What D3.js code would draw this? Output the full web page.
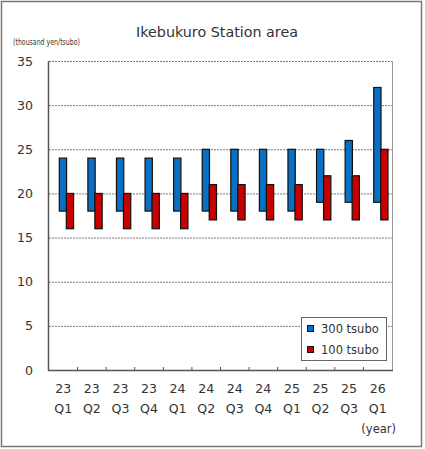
<!DOCTYPE html>
<html>
<head>
<meta charset="utf-8">
<script src="https://cdn.jsdelivr.net/npm/d3@7"></script>
<style>
  body { margin: 0; background: white; }
  svg text { font-family: "DejaVu Sans", Verdana, sans-serif; fill: #333; }
</style>
</head>
<body>
<div id="chart"></div>
<script>
// data
var years    = ["23","23","23","23","24","24","24","24","25","25","25","26"];
var quarters = ["Q1","Q2","Q3","Q4","Q1","Q2","Q3","Q4","Q1","Q2","Q3","Q1"];
var low300   = [18,18,18,18,18,18,18,18,18,19,19,19];
var high300  = [24,24,24,24,24,25,25,25,25,25,26,32];
var low100   = [16,16,16,16,16,17,17,17,17,17,17,17];
var high100  = [20,20,20,20,20,21,21,21,21,22,22,25];
var yTicks   = [0,5,10,15,20,25,30,35];
var seriesNames = ["300 tsubo","100 tsubo"];
var seriesColors = ["#0a70c4","#c80000"];

var width = 425, height = 449;
// plot area edges (window.top is reserved, so no plain "top")
var pLeft = 49, pRight = 392, pTop = 61, pBottom = 370;

var svg = d3.select("#chart").append("svg")
    .attr("width", width)
    .attr("height", height);

// outer frame
svg.append("rect")
    .attr("x", 1.5).attr("y", 1.5)
    .attr("width", 420).attr("height", 445)
    .style("fill", "white")
    .style("stroke", "#777")
    .style("stroke-width", 1.5);

var idx = d3.range(years.length);
var x = d3.scaleBand().domain(idx).range([pLeft, pRight]);
var y = d3.scaleLinear().domain([0, 35]).range([pBottom, pTop]);

// gridlines
svg.append("g").selectAll("line").data(yTicks.slice(1)).enter().append("line")
    .attr("x1", pLeft).attr("x2", pRight)
    .attr("y1", function(d) { return y(d) + 0.5; })
    .attr("y2", function(d) { return y(d) + 0.5; })
    .style("stroke", "#777")
    .style("stroke-width", 1)
    .style("stroke-dasharray", "2,1");

// right border of the plot
svg.append("line")
    .attr("x1", pRight + 0.5).attr("x2", pRight + 0.5)
    .attr("y1", pTop).attr("y2", pBottom)
    .style("stroke", "#999");

var barW = 7.3;

// 300 tsubo bars
svg.append("g").selectAll("rect").data(idx).enter().append("rect")
    .attr("x", function(d) { return x(d) + x.bandwidth() / 2 - 4; })
    .attr("y", function(d) { return y(high300[d]); })
    .attr("width", barW)
    .attr("height", function(d) { return y(low300[d]) - y(high300[d]); })
    .style("fill", seriesColors[0])
    .style("stroke", "#111")
    .style("stroke-width", 1.2);

// 100 tsubo bars
svg.append("g").selectAll("rect").data(idx).enter().append("rect")
    .attr("x", function(d) { return x(d) + x.bandwidth() / 2 + 3; })
    .attr("y", function(d) { return y(high100[d]); })
    .attr("width", barW)
    .attr("height", function(d) { return y(low100[d]) - y(high100[d]); })
    .style("fill", seriesColors[1])
    .style("stroke", "#111")
    .style("stroke-width", 1.2);

// axes lines
svg.append("line")
    .attr("x1", pLeft - 0.5).attr("x2", pLeft - 0.5)
    .attr("y1", pTop).attr("y2", pBottom + 1)
    .style("stroke", "#555").style("stroke-width", 1.5);
svg.append("line")
    .attr("x1", pLeft - 1).attr("x2", pRight + 1)
    .attr("y1", pBottom + 0.5).attr("y2", pBottom + 0.5)
    .style("stroke", "#555").style("stroke-width", 1.5);

// x ticks (inside)
svg.append("g").selectAll("line").data(idx.slice(1)).enter().append("line")
    .attr("x1", function(d) { return x(d); })
    .attr("x2", function(d) { return x(d); })
    .attr("y1", pBottom - 3).attr("y2", pBottom)
    .style("stroke", "#555");

// y tick labels
svg.append("g").selectAll("text").data(yTicks).enter().append("text")
    .attr("x", 33)
    .attr("y", function(d) { return y(d) + 4.5; })
    .attr("text-anchor", "end")
    .style("font-size", "12.6px")
    .text(function(d) { return d; });

// x labels, two lines
svg.append("g").selectAll("text").data(idx).enter().append("text")
    .attr("x", function(d) { return x(d) + x.bandwidth() / 2; })
    .attr("y", 393)
    .attr("text-anchor", "middle")
    .style("font-size", "12.6px")
    .text(function(d) { return years[d]; });
svg.append("g").selectAll("text").data(idx).enter().append("text")
    .attr("x", function(d) { return x(d) + x.bandwidth() / 2; })
    .attr("y", 413)
    .attr("text-anchor", "middle")
    .style("font-size", "12.6px")
    .text(function(d) { return quarters[d]; });

// title and units
svg.append("text")
    .attr("x", 217).attr("y", 37)
    .attr("text-anchor", "middle")
    .style("font-size", "14.3px")
    .text("Ikebukuro Station area");

svg.append("text")
    .attr("x", 13).attr("y", 45)
    .attr("textLength", 67)
    .attr("lengthAdjust", "spacingAndGlyphs")
    .style("font-size", "8px")
    .text("(thousand yen/tsubo)");

svg.append("text")
    .attr("x", 396).attr("y", 433)
    .attr("text-anchor", "end")
    .style("font-size", "11.5px")
    .text("(year)");

// legend
var lg = svg.append("g");
lg.append("rect")
    .attr("x", 301.5).attr("y", 317.5)
    .attr("width", 85).attr("height", 43)
    .style("fill", "white")
    .style("stroke", "#666");
lg.selectAll("rect.key").data([0, 1]).enter().append("rect")
    .attr("class", "key")
    .attr("x", 307.5)
    .attr("y", function(d) { return 325.5 + d * 21; })
    .attr("width", 6).attr("height", 6)
    .style("fill", function(d) { return seriesColors[d]; })
    .style("stroke", "#111");
lg.selectAll("text").data([0, 1]).enter().append("text")
    .attr("x", 321)
    .attr("y", function(d) { return 333 + d * 21; })
    .style("font-size", "11.5px")
    .text(function(d) { return seriesNames[d]; });
</script>
</body>
</html>
